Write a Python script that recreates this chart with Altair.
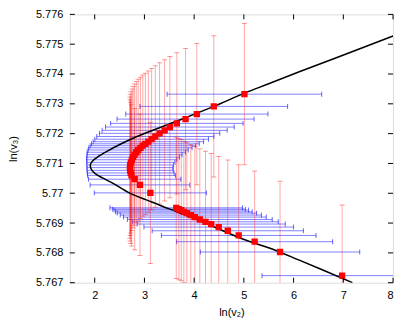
import altair as alt
import pandas as pd

# upper branch (ln v2, ln v3, x-error)
up_x = [5.011, 4.395, 4.054, 3.827, 3.652, 3.512, 3.406, 3.305, 3.219, 3.145,
        3.079, 3.019, 2.968, 2.920, 2.874, 2.836, 2.802, 2.772, 2.748, 2.728,
        2.714, 2.708, 2.712, 2.724, 2.740, 2.804, 2.910, 3.119]
up_y = [5.773324, 5.772913, 5.772656, 5.772488, 5.772344, 5.772221, 5.772110,
        5.772010, 5.771903, 5.771813, 5.771729, 5.771659, 5.771595, 5.771525,
        5.771452, 5.771375, 5.771294, 5.771211, 5.771124, 5.771037, 5.770950,
        5.770860, 5.770769, 5.770682, 5.770599, 5.770472, 5.770281, 5.770013]
up_xe = [1.555, 1.485, 1.430, 1.378, 1.332, 1.294, 1.258, 1.210, 1.178, 1.143,
         1.111, 1.083, 1.061, 1.039, 1.007, 0.989, 0.955, 0.933, 0.907, 0.887,
         0.873, 0.863, 0.867, 0.873, 0.883, 0.929, 1.003, 1.127]

# lower branch
lo_x = [3.640, 3.693, 3.741, 3.793, 3.853, 3.933, 4.014, 4.114, 4.228, 4.343,
        4.495, 4.676, 4.896, 5.217, 5.727, 6.976]
lo_y = [5.769512, 5.769468, 5.769435, 5.769378, 5.769334, 5.769268, 5.769201,
        5.769121, 5.769043, 5.768967, 5.768866, 5.768742, 5.768585, 5.768375,
        5.768030, 5.767237]
lo_xe = [1.334, 1.338, 1.354, 1.374, 1.400, 1.420, 1.436, 1.456, 1.464, 1.490,
         1.505, 1.521, 1.555, 1.569, 1.603, 1.611]

y_error = 0.00237

# fitted curve
curve_x = [8.0, 7.017, 6.114, 5.512, 5.011, 4.395, 3.707, 3.105, 2.838, 2.503,
           2.236, 2.068, 1.967, 1.915, 1.921, 2.0, 2.168, 2.369, 2.704, 3.039,
           3.372, 3.640, 4.108, 4.976, 5.512, 6.114, 7.183]
curve_y = [5.775274, 5.774645, 5.774077, 5.773682, 5.773358, 5.772913, 5.772455,
           5.772070, 5.771896, 5.771635, 5.771395, 5.771227, 5.771100, 5.770967,
           5.770840, 5.770672, 5.770505, 5.770331, 5.770003, 5.769779, 5.769555,
           5.769388, 5.769084, 5.768465, 5.768164, 5.767756, 5.767003]

x_ticks = [2, 3, 4, 5, 6, 7, 8]
y_ticks = [5.767, 5.768, 5.769, 5.770, 5.771, 5.772, 5.773, 5.774, 5.775, 5.776]

W, H = 324, 269
FONT = "Liberation Sans"

xs = list(up_x) + list(lo_x)
ys = list(up_y) + list(lo_y)
xe = list(up_xe) + list(lo_xe)
df = pd.DataFrame({"x": xs, "y": ys, "xe": xe})
df["xlo"] = df["x"] - df["xe"]
df["xhi"] = df["x"] + df["xe"]
df["ylo"] = df["y"] - y_error
df["yhi"] = df["y"] + y_error

curve = pd.DataFrame({"x": curve_x, "y": curve_y, "i": range(len(curve_x))})
xt = pd.DataFrame({"t": x_ticks})
yt = pd.DataFrame({"t": y_ticks})

xscale = alt.Scale(domain=[1.5, 8], nice=False, zero=False)
yscale = alt.Scale(domain=[5.767, 5.776], nice=False, zero=False)

xaxis = alt.Axis(values=x_ticks, ticks=False, domain=False, grid=False,
                 labelFont=FONT, labelFontSize=11, labelColor="black",
                 labelPadding=7, title="ln(v₂)", titleFont=FONT,
                 titleFontSize=11, titleFontWeight="normal", titleColor="black",
                 titlePadding=6)
yaxis = alt.Axis(values=y_ticks, format="~g", ticks=False, domain=False, grid=False,
                 labelFont=FONT, labelFontSize=11, labelColor="black",
                 labelPadding=7, title="ln(v₃)", titleFont=FONT,
                 titleFontSize=11, titleFontWeight="normal", titleColor="black",
                 titlePadding=17)

X = lambda f: alt.X(f, type="quantitative", scale=xscale, axis=xaxis, title="ln(v₂)")
Y = lambda f: alt.Y(f, type="quantitative", scale=yscale, axis=yaxis, title="ln(v₃)")

base = alt.Chart(df)

xbars = base.mark_rule(color="#0000ff", opacity=0.5, strokeWidth=1, clip=True).encode(
    x=X("xlo"), x2="xhi", y=Y("y"))
xcap_lo = base.mark_tick(color="#0000ff", opacity=0.6, orient="vertical", size=5,
                         thickness=1, clip=True).encode(x=X("xlo"), y=Y("y"))
xcap_hi = base.mark_tick(color="#0000ff", opacity=0.6, orient="vertical", size=5,
                         thickness=1, clip=True).encode(x=X("xhi"), y=Y("y"))
ybars = base.mark_rule(color="#ff0000", opacity=0.35, strokeWidth=1, clip=True).encode(
    x=X("x"), y=Y("ylo"), y2="yhi")
ycap_lo = base.mark_tick(color="#ff0000", opacity=0.4, orient="horizontal", size=5,
                         thickness=1, clip=True).encode(x=X("x"), y=Y("ylo"))
ycap_hi = base.mark_tick(color="#ff0000", opacity=0.4, orient="horizontal", size=5,
                         thickness=1, clip=True).encode(x=X("x"), y=Y("yhi"))

line = alt.Chart(curve).mark_line(color="black", strokeWidth=1.5, clip=True,
                                  interpolate="catmull-rom").encode(
    x=X("x"), y=Y("y"), order="i:Q")

pts = base.mark_square(color="#ff0000", size=40, opacity=1, clip=True).encode(
    x=X("x"), y=Y("y"))

tb = alt.Chart(xt).mark_rule(color="black", strokeWidth=1).encode(
    x=X("t"), y=alt.value(H), y2=alt.value(H - 5))
tt = alt.Chart(xt).mark_rule(color="black", strokeWidth=1).encode(
    x=X("t"), y=alt.value(0), y2=alt.value(5))
tl = alt.Chart(yt).mark_rule(color="black", strokeWidth=1).encode(
    y=Y("t"), x=alt.value(0), x2=alt.value(5))
tr = alt.Chart(yt).mark_rule(color="black", strokeWidth=1).encode(
    y=Y("t"), x=alt.value(W), x2=alt.value(W - 5))

chart = alt.layer(xbars, xcap_lo, xcap_hi, ybars, ycap_lo, ycap_hi, line, pts,
                  tb, tt, tl, tr).properties(
    width=W, height=H,
    padding={"left": 62, "top": 6, "right": 14, "bottom": 40},
    autosize=alt.AutoSizeParams(type="none"),
).configure_view(stroke="black", strokeWidth=1.6).configure(background="white")

chart.save("out.html", embed_options={"renderer": "svg", "actions": False})
